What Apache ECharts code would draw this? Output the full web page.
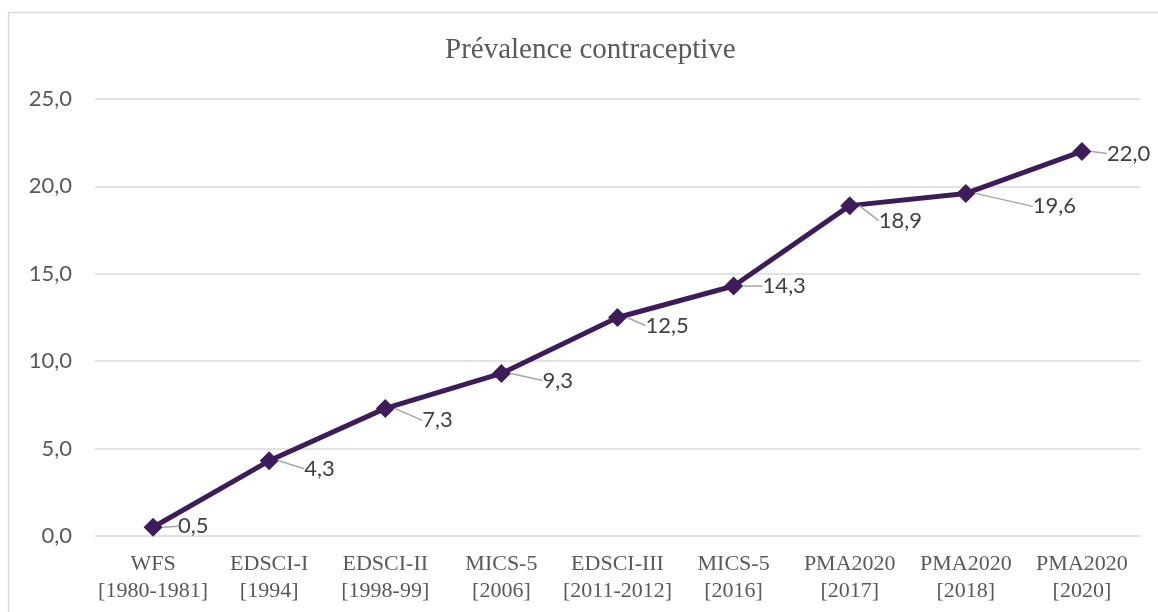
<!DOCTYPE html>
<html>
<head>
<meta charset="utf-8">
<script src="https://cdn.jsdelivr.net/npm/echarts@6/dist/echarts.min.js"></script>
<style>
  html, body { margin: 0; padding: 0; background: #ffffff; }
  #chart { width: 1158px; height: 612px; }
</style>
</head>
<body>
<div id="chart"></div>
<script>
// Survey names and years (two-line category labels)
const surveys = ['WFS', 'EDSCI-I', 'EDSCI-II', 'MICS-5', 'EDSCI-III', 'MICS-5', 'PMA2020', 'PMA2020', 'PMA2020'];
const periods = ['[1980-1981]', '[1994]', '[1998-99]', '[2006]', '[2011-2012]', '[2016]', '[2017]', '[2018]', '[2020]'];
// Contraceptive prevalence (%)
const prevalence = [0.5, 4.3, 7.3, 9.3, 12.5, 14.3, 18.9, 19.6, 22.0];
// Y axis ticks
const yTicks = [0, 5, 10, 15, 20, 25];

// Offsets of each value label from its marker (left edge, vertical centre)
const labelOffsets = [[25, -1], [35, 8], [37, 12], [41, 7], [28, 8], [29, 0], [29, 15], [67, 13], [25, 2]];

const categories = surveys.map((s, i) => s + '\n' + periods[i]);
const fmt = v => v.toFixed(1).replace('.', ',');

const chart = echarts.init(document.getElementById('chart'), null, { renderer: 'canvas' });
chart.setOption({
  backgroundColor: '#ffffff',
  animation: false,
  graphic: [{
    type: 'rect',
    shape: { x: 8.5, y: 12.5, width: 1200, height: 700 },
    style: { fill: 'none', stroke: '#d9d9d9', lineWidth: 1.5 },
    silent: true
  }],
  title: {
    text: 'Prévalence contraceptive',
    left: 440,
    top: 31,
    textStyle: { fontFamily: 'Liberation Serif', fontWeight: 'normal', fontSize: 29, color: '#595959' }
  },
  grid: { left: 95, right: 18, top: 99, bottom: 76, containLabel: false },
  xAxis: {
    type: 'category',
    data: categories,
    boundaryGap: true,
    axisLine: { show: false },
    axisTick: { show: false },
    axisLabel: {
      margin: 15,
      interval: 0,
      fontFamily: 'Liberation Serif',
      fontSize: 22,
      lineHeight: 27,
      color: '#595959'
    }
  },
  yAxis: {
    type: 'value',
    min: yTicks[0],
    max: yTicks[yTicks.length - 1],
    interval: yTicks[1] - yTicks[0],
    axisLine: { show: false },
    axisTick: { show: false },
    splitLine: { lineStyle: { color: '#d9d9d9', width: 1.5 } },
    axisLabel: {
      margin: 23,
      fontFamily: 'Lato',
      fontSize: 22,
      color: '#595959',
      formatter: v => fmt(v)
    }
  },
  series: [{
    type: 'line',
    data: prevalence,
    symbol: 'diamond',
    symbolSize: 19,
    lineStyle: { color: '#3e1c5c', width: 5 },
    itemStyle: { color: '#3e1c5c' },
    label: {
      show: true,
      position: 'right',
      fontFamily: 'Lato',
      fontSize: 22,
      color: '#404040',
      formatter: p => fmt(p.value)
    },
    labelLine: {
      show: true,
      lineStyle: { color: '#a6a6a6', width: 1.5 }
    },
    labelLayout: function (params) {
      const o = labelOffsets[params.dataIndex];
      const cx = params.rect.x + params.rect.width / 2;
      const cy = params.rect.y + params.rect.height / 2;
      return {
        x: cx + o[0],
        y: cy + o[1],
        align: 'left',
        verticalAlign: 'middle'
      };
    },
    z: 3
  }]
});
</script>
</body>
</html>
